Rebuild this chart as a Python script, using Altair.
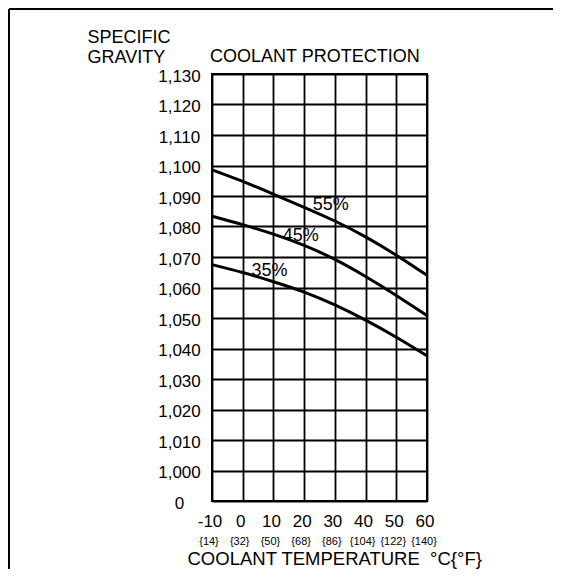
import altair as alt
import pandas as pd

# ---- data ----
temps = [-10, 0, 10, 20, 30, 40, 50, 60]
fahrenheit = ["{14}", "{32}", "{50}", "{68}", "{86}", "{104}", "{122}", "{140}"]
sg_55 = [1098.6, 1094.8, 1090.6, 1086.3, 1081.8, 1076.6, 1070.6, 1064.0]
sg_45 = [1083.4, 1080.6, 1077.5, 1073.8, 1069.2, 1063.6, 1057.4, 1050.8]
sg_35 = [1067.5, 1064.9, 1061.9, 1058.5, 1054.3, 1049.3, 1043.7, 1037.6]
series_names = ["55%", "45%", "35%"]
label_x = [28.7, 18.9, 8.7]
label_y = [1087.0, 1077.0, 1065.4]
y_ticks = [990, 1000, 1010, 1020, 1030, 1040, 1050, 1060, 1070, 1080, 1090, 1100, 1110, 1120, 1130]

FONT = "Liberation Sans"

rows = []
for name, vals in zip(series_names, [sg_55, sg_45, sg_35]):
    for t, v in zip(temps, vals):
        rows.append({"series": name, "temp": t, "sg": v})
curves_df = pd.DataFrame(rows)
labels_df = pd.DataFrame({"x": label_x, "y": label_y, "text": series_names})
f_df = pd.DataFrame({"temp": temps, "f": fahrenheit})
one = pd.DataFrame({"k": [0]})

W, H = 215, 427

x_scale = alt.Scale(domain=[-10, 60], nice=False, zero=False)
y_scale = alt.Scale(domain=[990, 1130], nice=False, zero=False)

x_axis = alt.Axis(
    values=temps, tickCount=50, grid=True, gridColor="black", gridWidth=1.8, gridOpacity=1,
    ticks=False, tickSize=0, domain=False, labelOverlap=False, labelFlush=False,
    labelFont=FONT, labelFontSize=17, labelColor="black", labelPadding=12,
    labelOffset=-2.5, labelExpr="'' + datum.value",
    title="COOLANT TEMPERATURE\u00a0\u00a0°C{°F}", titleFont=FONT, titleFontSize=18.5,
    titleFontWeight="normal", titleColor="black", titleAlign="left",
    titleBaseline="alphabetic", titleX=-25, titleY=63,
)
y_axis = alt.Axis(
    values=y_ticks, tickCount=50, grid=True, gridColor="black", gridWidth=1.8, gridOpacity=1,
    ticks=False, tickSize=0, domain=False, labelOverlap=False, labelFlush=False,
    labelFont=FONT, labelFontSize=17, labelColor="black", labelPadding=33,
    labelAlign="center", labelOffset=2,
    labelExpr="datum.value == 990 ? '0' : format(datum.value, ',')",
    title=["SPECIFIC", "GRAVITY"], titleFont=FONT, titleFontSize=18,
    titleFontWeight="normal", titleColor="black", titleAngle=0, titleAlign="left",
    titleBaseline="alphabetic", titleX=-125, titleY=-32, titleLineHeight=20,
)

curves = alt.Chart(curves_df).mark_line(
    color="black", strokeWidth=3, interpolate="natural"
).encode(
    x=alt.X("temp:Q", scale=x_scale, axis=x_axis),
    y=alt.Y("sg:Q", scale=y_scale, axis=y_axis),
    detail="series:N",
)

pct = alt.Chart(labels_df).mark_text(
    font=FONT, fontSize=18, color="black", align="center", baseline="middle"
).encode(
    x=alt.X("x:Q", scale=x_scale),
    y=alt.Y("y:Q", scale=y_scale),
    text="text:N",
)

fdeg = alt.Chart(f_df).mark_text(
    font=FONT, fontSize=11, color="black", align="center", baseline="middle", dx=-3
).encode(
    x=alt.X("temp:Q", scale=x_scale),
    y=alt.value(468),
    text="f:N",
)

top_title = alt.Chart(one).mark_text(
    font=FONT, fontSize=18, color="black", align="left", baseline="alphabetic"
).encode(
    x=alt.value(-2), y=alt.value(-12),
    text=alt.value("COOLANT PROTECTION"),
)

frame_top = alt.Chart(one).mark_rule(color="black", strokeWidth=2).encode(
    x=alt.value(-203), x2=alt.value(349), y=alt.value(-65)
)
frame_left = alt.Chart(one).mark_rule(color="black", strokeWidth=2).encode(
    x=alt.value(-203), y=alt.value(-65), y2=alt.value(505)
)

chart = alt.layer(curves, pct, fdeg, top_title, frame_top, frame_left).properties(
    width=W, height=H,
    autosize=alt.AutoSizeParams(type="none"),
    padding={"left": 204, "top": 66, "right": 126, "bottom": 68},
).configure_view(
    stroke="black", strokeWidth=2
)

chart.save("out.html", embed_options={"renderer": "svg", "actions": False})
